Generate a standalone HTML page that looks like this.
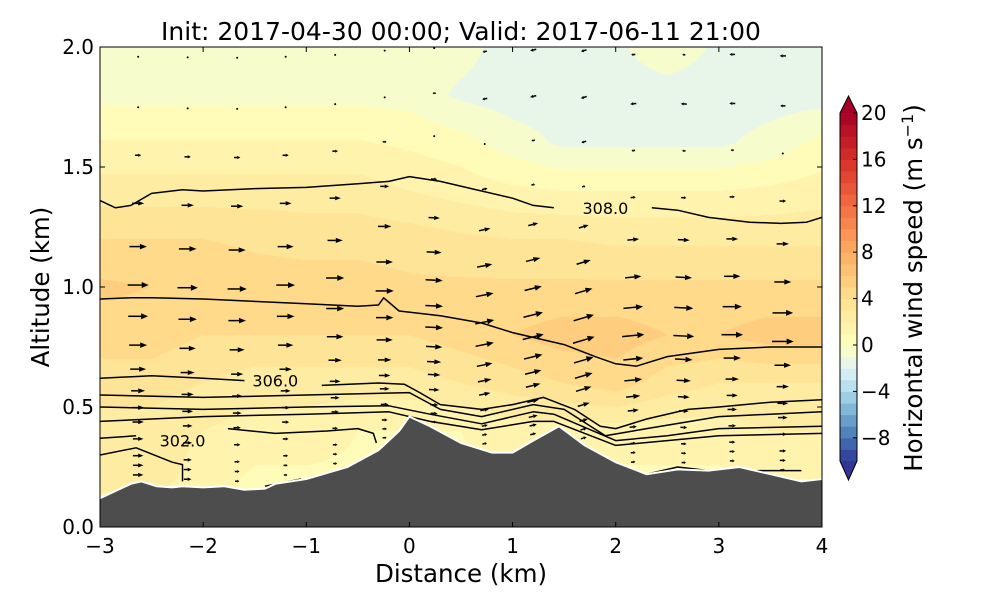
<!DOCTYPE html>
<html><head><meta charset="utf-8">
<style>
body{margin:0;background:#fff;font-family:"DejaVu Sans","Liberation Sans",sans-serif;}
#wrap{position:relative;width:1000px;height:600px;}
canvas{position:absolute;left:100px;top:47px;}
svg{position:absolute;left:0;top:0;font-family:"DejaVu Sans","Liberation Sans",sans-serif;}
</style></head>
<body><div id="wrap">
<canvas id="field" width="722" height="480"></canvas>
<svg id="svg" width="1000" height="600"></svg>
</div>
<script>
// ---- data ----
const gridX = [-3,-2.5,-2,-1.5,-1,-0.5,0,0.5,1,1.5,2,2.5,3,3.5,4];
const gridZ = [0,0.2,0.4,0.6,0.8,1.0,1.2,1.4,1.6,1.8,2.0];
const speed = [
 [0.8,0.8,0.8,0.8,0.8,0.8,0.8,0.8,0.8,0.8,0.8,0.8,0.8,0.8,0.8],
 [2.5,2.5,1.5,0.8,0.8,0.8,0.8,0.8,0.8,0.8,0.8,0.8,0.8,1,1],
 [2.5,2.5,2,1.5,1.5,1,1,1,1.5,1.5,1.5,1.5,1.5,2,2],
 [3.5,3.5,3,2.5,2.5,2.5,2.5,3,3.5,4,4.5,3.5,3,3,3],
 [4.5,4.5,4,4,4,4,4,4.5,5,5.5,5.5,5,5,5.5,5.5],
 [5.2,5,4.8,4.5,4.5,4.5,4.2,4.2,4.2,4.2,4.2,4.2,4.2,4.2,4.2],
 [4,4,4,3.8,3.6,3.6,3.5,3.2,3,3,2.8,2.8,2.8,2.8,2.8],
 [2.5,2.5,2.5,2.5,2.5,2.5,2,1.6,1.2,1,1,1,1,1.2,1.5],
 [1.1,1.1,1.1,1.1,1.1,1.1,0.8,0.4,-0.5,-1.2,-1.2,-1.2,-1.2,-0.6,0.3],
 [-0.3,-0.3,-0.3,-0.3,-0.3,-0.3,-0.4,-1.2,-1.5,-1.5,-1.5,-1.5,-1.5,-1.5,-1.5],
 [-0.3,-0.3,-0.3,-0.3,-0.3,-0.3,-0.4,-0.6,-1.5,-1.5,-1.2,-0.3,-1.2,-1.5,-1.5]
];
const terrainX = [-3,-2.7,-2.6,-2.45,-2.3,-2.2,-2.0,-1.8,-1.6,-1.4,-1.3,-1.0,-0.6,-0.3,-0.1,0,0.2,0.5,0.8,1.0,1.2,1.45,1.7,2.0,2.3,2.6,2.9,3.2,3.5,3.8,4];
const terrainZ = [0.12,0.18,0.19,0.17,0.165,0.17,0.165,0.17,0.155,0.16,0.18,0.2,0.25,0.32,0.4,0.46,0.42,0.35,0.31,0.31,0.36,0.42,0.34,0.27,0.22,0.24,0.235,0.25,0.22,0.19,0.2];
const contours = [
 [[-3,1.36],[-2.85,1.33],[-2.7,1.34],[-2.5,1.39],[-2.2,1.405],[-2,1.4],[-1.5,1.41],[-1,1.415],[-0.5,1.43],[-0.2,1.44],[0,1.46],[0.3,1.44],[0.6,1.41],[1,1.37],[1.2,1.34],[1.4,1.33]],
 [[2.35,1.33],[2.6,1.32],[2.9,1.29],[3.3,1.27],[3.6,1.265],[3.85,1.27],[4,1.29]],
 [[-3,0.95],[-2.7,0.955],[-2.5,0.955],[-2,0.95],[-1,0.93],[-0.5,0.92],[-0.3,0.925],[-0.25,0.955],[-0.1,0.9],[0.3,0.88],[0.7,0.85],[1,0.81],[1.5,0.76],[1.8,0.71],[2,0.68],[2.2,0.67],[2.5,0.71],[3,0.74],[3.5,0.75],[4,0.75]],
 [[-3,0.62],[-2.5,0.63],[-2,0.62],[-1.6,0.61]],
 [[-0.85,0.59],[-0.3,0.6],[-0.05,0.595],[0.1,0.56],[0.3,0.51],[0.7,0.49],[1.0,0.51],[1.3,0.54],[1.6,0.49],[1.85,0.42],[2,0.41],[2.3,0.45],[2.7,0.49],[3,0.5],[3.5,0.52],[4,0.53]],
 [[-3,0.55],[-2,0.54],[-1,0.55],[0,0.56],[0.3,0.49],[0.7,0.46],[1.2,0.51],[1.5,0.49],[1.9,0.38],[2.3,0.41],[3,0.46],[4,0.48]],
 [[-3,0.5],[-2,0.49],[-1,0.5],[-0.2,0.505],[0.2,0.47],[0.7,0.43],[1.2,0.48],[1.4,0.47],[2,0.36],[2.5,0.38],[3,0.41],[4,0.42]],
 [[-3,0.44],[-2.5,0.45],[-2,0.46],[-1,0.47],[-0.2,0.48],[0.2,0.44],[0.7,0.405],[1.2,0.44],[1.4,0.44],[2,0.34],[2.5,0.36],[3,0.38],[4,0.39]],
 [[-3,0.37],[-2.65,0.38]],
 [[-3,0.3],[-2.65,0.33],[-2.3,0.27],[-2.2,0.26],[-2.2,0.19]],
 [[-1.76,0.41],[-1.3,0.39],[-0.8,0.4],[-0.5,0.41],[-0.35,0.39],[-0.32,0.35]],
 [[-1.4,0.17],[-1.05,0.2]],
 [[1.65,0.34],[2.0,0.23],[2.3,0.22],[2.6,0.25],[3,0.23],[3.4,0.235],[3.8,0.235]]
];
const labels = [["308.0",1.9,1.33],["306.0",-1.3,0.61],["302.0",-2.2,0.36]];
const arrowX = [-2.63,-2.15,-1.67,-1.2,-0.72,-0.24,0.24,0.73,1.2,1.69,2.17,2.66,3.13,3.62];
const arrowSlope = [0,0,0,0,0,0,0.05,-0.2,-0.25,-0.3,-0.1,0.05,0,0];
const levelAlt = [1.96,1.75,1.55,1.35,1.17,1.01,0.88,0.76,0.66,0.57,0.5,0.44,0.37,0.3,0.26,0.22];
const xTicks = [-3,-2,-1,0,1,2,3,4];
const yTicks = [0.0,0.5,1.0,1.5,2.0];
const cbTicks = [-8,-4,0,4,8,12,16,20];

// ---- scales ----
const X0=100,X1=822,Y0=527,Y1=47;
const sx=x=>X0+(x+3)/7*(X1-X0);
const sy=z=>Y0-z/2*(Y0-Y1);
function interp1(xs,ys,x){if(x<=xs[0])return ys[0];for(let i=1;i<xs.length;i++){if(x<=xs[i]){const t=(x-xs[i-1])/(xs[i]-xs[i-1]);return ys[i-1]+t*(ys[i]-ys[i-1]);}}return ys[ys.length-1];}
const terrain=x=>interp1(terrainX,terrainZ,x);
function field(x,z){
  let i=Math.min(gridX.length-2,Math.max(0,Math.floor((x+3)/0.5)));
  let j=Math.min(gridZ.length-2,Math.max(0,Math.floor(z/0.2)));
  let tx=Math.min(1,Math.max(0,(x-gridX[i])/0.5)),tz=Math.min(1,Math.max(0,(z-gridZ[j])/0.2));
  const a=speed[j][i],b=speed[j][i+1],c=speed[j+1][i],d=speed[j+1][i+1];
  return (a*(1-tx)+b*tx)*(1-tz)+(c*(1-tx)+d*tx)*tz;
}
const anchors=["#313695","#4575b4","#74add1","#abd9e9","#e0f3f8","#ffffbf","#fee090","#fdae61","#f46d43","#d73027","#a50026"].map(h=>[parseInt(h.substr(1,2),16),parseInt(h.substr(3,2),16),parseInt(h.substr(5,2),16)]);
function cmap(v){
  let t=v<0?0.5+v/20:0.5+v/40; t=Math.max(0,Math.min(1,t));
  const p=t*10,i=Math.min(9,Math.floor(p)),f=p-i;
  return anchors[i].map((c,k)=>Math.round(c+(anchors[i+1][k]-c)*f));
}
const levelColor=v=>cmap(Math.floor(v)+0.5);

// ---- field ----
const ctx=document.getElementById('field').getContext('2d');
const img=ctx.createImageData(722,480);
for(let py=0;py<480;py++){for(let px=0;px<722;px++){
  const x=-3+(px+0.5)/722*7,z=2-(py+0.5)/480*2;
  const c=levelColor(field(x,z));const o=(py*722+px)*4;
  img.data[o]=c[0];img.data[o+1]=c[1];img.data[o+2]=c[2];img.data[o+3]=255;}}
ctx.putImageData(img,0,0);

// ---- svg ----
const NS="http://www.w3.org/2000/svg";const svg=document.getElementById('svg');
function el(tag,attrs,parent){const e=document.createElementNS(NS,tag);for(const k in attrs)e.setAttribute(k,attrs[k]);(parent||svg).appendChild(e);return e;}
const defs=el('defs',{});const cp=el('clipPath',{id:'clip'},defs);el('rect',{x:X0,y:Y1,width:X1-X0,height:Y0-Y1},cp);
const plot=el('g',{'clip-path':'url(#clip)'});



contours.forEach((c,i)=>{
  const p=el('polyline',{points:c.map(q=>sx(q[0])+','+sy(q[1])).join(' '),fill:'none',stroke:'#000','stroke-width':1.5,'stroke-linejoin':'round'},plot);
  
  
});
labels.forEach(l=>{
  const t=el('text',{x:sx(l[1]),y:sy(l[2])+6,'font-size':16,'text-anchor':'middle',fill:'#000'},plot);t.textContent=l[0];
  
  
});
// arrows
arrowX.forEach((ax,ci)=>{
  const zs=terrain(ax);
  levelAlt.forEach(a=>{
    const z=zs+(a-0.19)*(2.3-zs)/(2.3-0.19);
    const u=field(ax,z);const L=Math.abs(u)*4.2;
    const x=sx(ax),y=sy(z);const dir=u>=0?1:-1;
    const ang=Math.atan(-arrowSlope[ci]);
    const dx=Math.cos(ang)*dir,dy=-Math.sin(ang);
    const g=el('g',{},plot);
    
    
    if(L<2.5){el('circle',{cx:x,cy:y,r:1,fill:'#000'},g);return;}
    const hl=Math.min(7,L*0.5),hw=Math.min(3,1+L*0.1);
    const tipx=x+dx*L/2,tipy=y+dy*L/2*dir;
    const bx=x-dx*L/2,by=y-dy*L/2*dir;
    const ddx=dx,ddy=dy*dir;
    const hx=tipx-ddx*hl,hy=tipy-ddy*hl;
    el('line',{x1:bx,y1:by,x2:hx,y2:hy,stroke:'#000','stroke-width':1.5},g);
    el('polygon',{points:`${tipx},${tipy} ${hx-ddy*hw},${hy+ddx*hw} ${hx+ddy*hw},${hy-ddx*hw}`,fill:'#000'},g);
  });
});
// terrain
const tp=[sx(-3)+','+sy(0)];terrainX.forEach((x,i)=>tp.push(sx(x)+','+sy(terrainZ[i])));tp.push(sx(4)+','+sy(0));
const terr=el('polygon',{points:tp.join(' '),fill:'#4d4d4d',stroke:'none'},plot);


const terrLine=el('polyline',{points:terrainX.map((x,i)=>sx(x)+','+sy(terrainZ[i])).join(' '),fill:'none',stroke:'#fff','stroke-width':2},plot);



// frame & ticks
const frame=el('rect',{x:X0,y:Y1,width:X1-X0,height:Y0-Y1,fill:'none',stroke:'#000','stroke-width':1});


xTicks.forEach(v=>{const x=sx(v);
  el('line',{x1:x,y1:Y0,x2:x,y2:Y0-5,stroke:'#000'});el('line',{x1:x,y1:Y1,x2:x,y2:Y1+5,stroke:'#000'});
  const t=el('text',{x:x,y:Y0+26,'font-size':20,'text-anchor':'middle'});t.textContent=(v<0?'\u2212'+(-v):''+v);
  
  });
yTicks.forEach(v=>{const y=sy(v);
  el('line',{x1:X0,y1:y,x2:X0+5,y2:y,stroke:'#000'});el('line',{x1:X1,y1:y,x2:X1-5,y2:y,stroke:'#000'});
  const t=el('text',{x:X0-6,y:y+7,'font-size':20,'text-anchor':'end'});t.textContent=v.toFixed(1);
  
  });
const title=el('text',{x:461,y:40,'font-size':25,'text-anchor':'middle'});title.textContent='Init: 2017-04-30 00:00; Valid: 2017-06-11 21:00';


const xl=el('text',{x:461,y:582,'font-size':24.5,'text-anchor':'middle'});xl.textContent='Distance (km)';


const yl=el('text',{x:49,y:287,'font-size':24.5,'text-anchor':'middle',transform:'rotate(-90 49 287)'});yl.textContent='Altitude (km)';



// colorbar
const CB0=840,CB1=857,cTop=113,cBot=461;const cy=v=>cBot-(v+10)/30*(cBot-cTop);
const cb=el('g',{});


for(let v=-10;v<20;v++){const c=cmap(v+0.5);el('rect',{x:CB0,y:cy(v+1),width:CB1-CB0,height:cy(v)-cy(v+1)+0.5,fill:`rgb(${c})`},cb);}
let c=cmap(20.5);el('polygon',{points:`${CB0},${cTop} ${CB1},${cTop} ${(CB0+CB1)/2},96`,fill:`rgb(${c})`},cb);
c=cmap(-10.5);el('polygon',{points:`${CB0},${cBot} ${CB1},${cBot} ${(CB0+CB1)/2},480`,fill:`rgb(${c})`},cb);
el('polygon',{points:`${CB0},${cTop} ${(CB0+CB1)/2},96 ${CB1},${cTop} ${CB1},${cBot} ${(CB0+CB1)/2},480 ${CB0},${cBot}`,fill:'none',stroke:'#000','stroke-width':1},cb);
cbTicks.forEach(v=>{const y=cy(v);el('line',{x1:CB1-4,y1:y,x2:CB1,y2:y,stroke:'#000'},cb);
  const t=el('text',{x:861,y:y+7,'font-size':20},cb);t.textContent=(v<0?'\u2212'+(-v):''+v);
  
  });
const cl=el('text',{x:922,y:288,'font-size':24.5,'text-anchor':'middle',transform:'rotate(-90 922 288)'});
cl.innerHTML='Horizontal wind speed (m s<tspan dy="-9" font-size="16">\u22121</tspan><tspan dy="9">)</tspan>';


</script>
</body></html>
